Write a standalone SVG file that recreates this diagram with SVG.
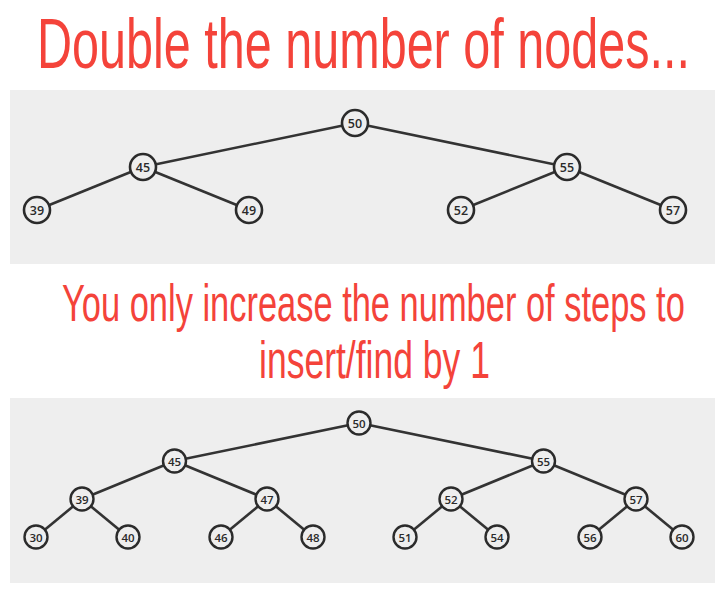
<svg xmlns="http://www.w3.org/2000/svg" width="725" height="594" viewBox="0 0 725 594">
<style>
.bg{fill:#ffffff}
.panel{fill:#eeeeee}
.head{font-family:"Liberation Sans",Arial,sans-serif;fill:#f4433a;font-weight:normal}
.edge{stroke:#333333;stroke-width:2.6;fill:none}
.n circle{fill:#eeeeee;stroke:#2b2b2b;stroke-width:2.6}
.n text{font-family:"Open Sans","DejaVu Sans",sans-serif;font-size:12.5px;font-weight:600;fill:#2a2a2a;text-anchor:middle;dominant-baseline:central}
.s circle{fill:#eeeeee;stroke:#2b2b2b;stroke-width:2.4}
.s text{font-family:"Open Sans","DejaVu Sans",sans-serif;font-size:11.5px;font-weight:600;fill:#2a2a2a;text-anchor:middle;dominant-baseline:central}
</style>
<rect class="bg" x="0" y="0" width="725" height="594"/>
<text class="head" transform="translate(37,68) scale(0.6935,1)" x="0" y="0" font-size="70">Double the number of nodes...</text>
<rect class="panel" x="10" y="90" width="705" height="174"/>
<text class="head" transform="translate(62,321) scale(0.6624,1)" x="0" y="0" font-size="52">You only increase the number of steps to</text>
<text class="head" transform="translate(259,378) scale(0.683,1)" x="0" y="0" font-size="52">insert/find by 1</text>
<rect class="panel" x="10" y="398" width="705" height="185"/>

<g id="connectors1">
<line class="edge" x1="355" y1="123" x2="143" y2="167"/>
<line class="edge" x1="355" y1="123" x2="567" y2="167"/>
<line class="edge" x1="143" y1="167" x2="37" y2="210"/>
<line class="edge" x1="143" y1="167" x2="249" y2="210"/>
<line class="edge" x1="567" y1="167" x2="461" y2="210"/>
<line class="edge" x1="567" y1="167" x2="673" y2="210"/>
</g>
<g id="t1-50" class="n"><circle cx="355" cy="123" r="13"/><text x="355" y="123">50</text></g>
<g id="t1-45" class="n"><circle cx="143" cy="167" r="13"/><text x="143" y="167">45</text></g>
<g id="t1-55" class="n"><circle cx="567" cy="167" r="13"/><text x="567" y="167">55</text></g>
<g id="t1-39" class="n"><circle cx="37" cy="210" r="13"/><text x="37" y="210">39</text></g>
<g id="t1-49" class="n"><circle cx="249" cy="210" r="13"/><text x="249" y="210">49</text></g>
<g id="t1-52" class="n"><circle cx="461" cy="210" r="13"/><text x="461" y="210">52</text></g>
<g id="t1-57" class="n"><circle cx="673" cy="210" r="13"/><text x="673" y="210">57</text></g>

<g id="connectors2">
<line class="edge" x1="359" y1="423" x2="174.5" y2="461"/>
<line class="edge" x1="359" y1="423" x2="543.5" y2="461"/>
<line class="edge" x1="174.5" y1="461" x2="82" y2="499"/>
<line class="edge" x1="174.5" y1="461" x2="267" y2="499"/>
<line class="edge" x1="543.5" y1="461" x2="451" y2="499"/>
<line class="edge" x1="543.5" y1="461" x2="636" y2="499"/>
<line class="edge" x1="82" y1="499" x2="36" y2="537"/>
<line class="edge" x1="82" y1="499" x2="128" y2="537"/>
<line class="edge" x1="267" y1="499" x2="221" y2="537"/>
<line class="edge" x1="267" y1="499" x2="313" y2="537"/>
<line class="edge" x1="451" y1="499" x2="405" y2="537"/>
<line class="edge" x1="451" y1="499" x2="497" y2="537"/>
<line class="edge" x1="636" y1="499" x2="590" y2="537"/>
<line class="edge" x1="636" y1="499" x2="682" y2="537"/>
</g>
<g id="t2-50" class="s"><circle cx="359" cy="423" r="11.5"/><text x="359" y="423">50</text></g>
<g id="t2-45" class="s"><circle cx="174.5" cy="461" r="11.5"/><text x="174.5" y="461">45</text></g>
<g id="t2-55" class="s"><circle cx="543.5" cy="461" r="11.5"/><text x="543.5" y="461">55</text></g>
<g id="t2-39" class="s"><circle cx="82" cy="499" r="11.5"/><text x="82" y="499">39</text></g>
<g id="t2-47" class="s"><circle cx="267" cy="499" r="11.5"/><text x="267" y="499">47</text></g>
<g id="t2-52" class="s"><circle cx="451" cy="499" r="11.5"/><text x="451" y="499">52</text></g>
<g id="t2-57" class="s"><circle cx="636" cy="499" r="11.5"/><text x="636" y="499">57</text></g>
<g id="t2-30" class="s"><circle cx="36" cy="537" r="11.5"/><text x="36" y="537">30</text></g>
<g id="t2-40" class="s"><circle cx="128" cy="537" r="11.5"/><text x="128" y="537">40</text></g>
<g id="t2-46" class="s"><circle cx="221" cy="537" r="11.5"/><text x="221" y="537">46</text></g>
<g id="t2-48" class="s"><circle cx="313" cy="537" r="11.5"/><text x="313" y="537">48</text></g>
<g id="t2-51" class="s"><circle cx="405" cy="537" r="11.5"/><text x="405" y="537">51</text></g>
<g id="t2-54" class="s"><circle cx="497" cy="537" r="11.5"/><text x="497" y="537">54</text></g>
<g id="t2-56" class="s"><circle cx="590" cy="537" r="11.5"/><text x="590" y="537">56</text></g>
<g id="t2-60" class="s"><circle cx="682" cy="537" r="11.5"/><text x="682" y="537">60</text></g>
</svg>
